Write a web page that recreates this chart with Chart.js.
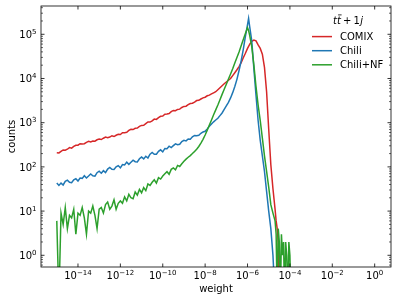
<!DOCTYPE html>
<html>
<head>
<meta charset="utf-8">
<title>tt+1j weight distribution</title>
<script src="https://cdn.jsdelivr.net/npm/chart.js@4"></script>
<style>
  html, body { margin: 0; padding: 0; background: #fff; }
  canvas { display: block; }
</style>
</head>
<body>
<canvas id="weightChart" width="398" height="302"></canvas>
<script>
// bin positions, log10(weight)
const binExp = [
  -15.0, -14.9, -14.8, -14.7, -14.6, -14.5, -14.4, -14.3, -14.2, -14.1,
  -14.0, -13.9, -13.8, -13.7, -13.6, -13.5, -13.4, -13.3, -13.2, -13.1,
  -13.0, -12.9, -12.8, -12.7, -12.6, -12.5, -12.4, -12.3, -12.2, -12.1,
  -12.0, -11.9, -11.8, -11.7, -11.6, -11.5, -11.4, -11.3, -11.2, -11.1,
  -11.0, -10.9, -10.8, -10.7, -10.6, -10.5, -10.4, -10.3, -10.2, -10.1,
  -10.0, -9.9, -9.8, -9.7, -9.6, -9.5, -9.4, -9.3, -9.2, -9.1,
  -9.0, -8.9, -8.8, -8.7, -8.6, -8.5, -8.4, -8.3, -8.2, -8.1,
  -8.0, -7.9, -7.8, -7.7, -7.6, -7.5, -7.4, -7.3, -7.2, -7.1,
  -7.0, -6.9, -6.8, -6.7, -6.6, -6.5, -6.4, -6.3, -6.2, -6.1,
  -6.0, -5.95,
  -5.9, -5.8, -5.7, -5.6, -5.5, -5.4, -5.3, -5.2, -5.1, -5.0, -4.9, -4.8, -4.7,
  -4.65, -4.6, -4.55, -4.5, -4.45, -4.4, -4.35, -4.3, -4.25, -4.2, -4.15, -4.1, -4.05, -4.0, -3.95
];

const comixCounts = [
  208, 207, 225, 242, 238, 251, 273, 266, 290, 309,
  310, 335, 331, 334, 360, 378, 366, 384, 382, 410,
  425, 416, 445, 471, 457, 474, 507, 486, 520, 546,
  539, 591, 594, 608, 668, 711, 700, 746, 757, 823,
  868, 870, 955, 1038, 1031, 1098, 1204, 1184, 1300, 1398,
  1416, 1559, 1569, 1610, 1773, 1893, 1867, 1995, 2026, 2210,
  2337, 2362, 2560, 2720, 2749, 2921, 3167, 3201, 3436, 3650,
  3764, 4058, 4204, 4487, 4742, 5012, 5559, 6166, 6839, 7586,
  8318, 9120, 10000, 11640, 13520, 15740, 18620, 22900, 29500, 37150,
  47860, 53500,
  58900, 69180, 74130, 70800, 57540, 47860, 35480, 17780, 5012, 708, 112, 32, 11,
  6, 4, 2, 0, null, null, null, null, null, null, null, null, null, null, null
];

const chiliCounts = [
  43, 38, 43, 39, 47, 50, 45, 44, 51, 54,
  48, 56, 55, 63, 56, 62, 69, 63, 62, 74,
  80, 72, 82, 74, 89, 97, 88, 87, 100, 107,
  95, 113, 111, 128, 114, 127, 142, 131, 129, 153,
  167, 152, 174, 159, 194, 212, 193, 194, 224, 243,
  218, 261, 258, 294, 274, 302, 332, 318, 326, 374,
  399, 388, 429, 421, 480, 515, 505, 520, 576, 618,
  640, 724, 832, 933, 1047, 1148, 1259, 1445, 1660, 1995,
  2399, 2884, 3631, 4786, 6607, 9550, 15140, 25120, 45710, 89130,
  166000, 229000,
  151000, 70800, 16600, 4169, 1122, 398, 178, 79, 28, 10, 4, 1, 0,
  null, null, null, null, null, null, null, null, null, null, null, null, null, null, null
];

const chiliNfCounts = [
  6, 0, 9, 5, 12, 4, 8, 7, 11, 3,
  9, 8, 12, 7, 3, 10, 9, 13, 8, 4,
  11, 12, 9, 14, 16, 11, 13, 18, 11, 15,
  17, 15, 21, 17, 24, 20, 19, 27, 23, 31,
  26, 34, 29, 41, 38, 45, 51, 43, 57, 53,
  62, 70, 78, 68, 88, 95, 86, 108, 102, 118,
  134, 150, 165, 180, 200, 224, 252, 290, 345, 420,
  525, 680, 890, 1150, 1510, 1950, 2510, 3300, 4370, 5700,
  7410, 9700, 12600, 16600, 22400, 30000, 39800, 55000, 75900, 104700,
  141000, 122000,
  95500, 52500, 20000, 6600, 2510, 1120, 447, 178, 79, 35, 14, 9, 6,
  3, 0, 4, 2, 0, 3, 1, 2, 0, 2, 1, 0, 2, 1, 0
];

const seriesLabels = ["COMIX", "Chili", "Chili+NF"];
const seriesColors = ["#d62728", "#1f77b4", "#2ca02c"];

const xTickExps = [-14, -12, -10, -8, -6, -4, -2, 0];
const yTickExps = [0, 1, 2, 3, 4, 5];
const xLimits = [-15.745, 0.77];   // log10 of axis ends
const yLimits = [-0.265, 5.64];

const FONT = '"DejaVu Sans", sans-serif';

function toPoints(counts){
  return binExp.map((e, i) => {
    const c = counts[i];
    if(c === null) return { x: Math.pow(10, e), y: null };
    // empty bins fall below the axis
    return { x: Math.pow(10, e), y: c > 0 ? c : 0.1 };
  });
}

function drawPower(ctx, exp, x, y, align){
  const sup = exp < 0 ? "\u2212" + Math.abs(exp) : String(exp);
  ctx.font = "10px " + FONT;
  const wb = ctx.measureText("10").width;
  ctx.font = "7px " + FONT;
  const ws = ctx.measureText(sup).width;
  const total = wb + ws;
  const x0 = align === "center" ? x - total / 2 : x - total;
  ctx.textAlign = "left";
  ctx.textBaseline = "alphabetic";
  ctx.font = "10px " + FONT;
  ctx.fillText("10", x0, y);
  ctx.font = "7px " + FONT;
  ctx.fillText(sup, x0 + wb, y - 4);
}

function drawLegendTitle(ctx, cx, y){
  const it = "italic 10px " + FONT;
  const rm = "10px " + FONT;
  const parts = [
    { t: "t", f: it, pad: 0 },
    { t: "t", f: it, pad: 0, bar: true },
    { t: "+", f: rm, pad: 2.2 },
    { t: "1", f: rm, pad: 2.2 },
    { t: "j", f: it, pad: 0.3 }
  ];
  let total = 0;
  for(const p of parts){
    ctx.font = p.f;
    p.w = ctx.measureText(p.t).width;
    total += p.pad + p.w;
  }
  let x = cx - total / 2;
  ctx.textAlign = "left";
  ctx.textBaseline = "alphabetic";
  for(const p of parts){
    x += p.pad;
    ctx.font = p.f;
    ctx.fillText(p.t, x, y);
    if(p.bar){
      ctx.beginPath();
      ctx.lineWidth = 0.8;
      ctx.moveTo(x + 1.2, y - 8.6);
      ctx.lineTo(x + p.w + 0.8, y - 8.6);
      ctx.stroke();
    }
    x += p.w;
  }
}

const axesPlugin = {
  id: "mplAxes",
  afterDraw(chart){
    const ctx = chart.ctx;
    const area = chart.chartArea;
    const xs = chart.scales.x;
    const ys = chart.scales.y;
    ctx.save();
    ctx.strokeStyle = "#000";
    ctx.fillStyle = "#000";

    // frame
    ctx.lineWidth = 0.8;
    ctx.strokeRect(area.left, area.top, area.right - area.left, area.bottom - area.top);

    // x ticks (inward, bottom and top)
    ctx.beginPath();
    for(const e of xTickExps){
      const px = xs.getPixelForValue(Math.pow(10, e));
      ctx.moveTo(px, area.bottom); ctx.lineTo(px, area.bottom - 3.5);
      ctx.moveTo(px, area.top); ctx.lineTo(px, area.top + 3.5);
    }
    // y major ticks
    for(const e of yTickExps){
      const py = ys.getPixelForValue(Math.pow(10, e));
      ctx.moveTo(area.left, py); ctx.lineTo(area.left + 3.5, py);
      ctx.moveTo(area.right, py); ctx.lineTo(area.right - 3.5, py);
    }
    ctx.stroke();

    // y minor ticks
    ctx.beginPath();
    ctx.lineWidth = 0.6;
    for(let d = Math.floor(yLimits[0]); d <= Math.ceil(yLimits[1]); d++){
      for(let m = 2; m <= 9; m++){
        const lv = d + Math.log10(m);
        if(lv < yLimits[0] || lv > yLimits[1]) continue;
        const py = ys.getPixelForValue(m * Math.pow(10, d));
        ctx.moveTo(area.left, py); ctx.lineTo(area.left + 2, py);
        ctx.moveTo(area.right, py); ctx.lineTo(area.right - 2, py);
      }
    }
    ctx.stroke();

    // tick labels
    for(const e of xTickExps){
      const px = xs.getPixelForValue(Math.pow(10, e));
      drawPower(ctx, e, px, area.bottom + 11.5, "center");
    }
    for(const e of yTickExps){
      const py = ys.getPixelForValue(Math.pow(10, e));
      drawPower(ctx, e, area.left - 4.5, py + 3.7, "right");
    }

    // axis titles
    ctx.font = "10px " + FONT;
    ctx.textAlign = "center";
    ctx.textBaseline = "alphabetic";
    ctx.fillText("weight", (area.left + area.right) / 2, 292);
    ctx.save();
    ctx.translate(15, (area.top + area.bottom) / 2);
    ctx.rotate(-Math.PI / 2);
    ctx.fillText("counts", 0, 0);
    ctx.restore();

    // legend
    drawLegendTitle(ctx, 348, 23.5);
    seriesLabels.forEach((label, i) => {
      const y = 36.6 + i * 14.1;
      ctx.beginPath();
      ctx.strokeStyle = seriesColors[i];
      ctx.lineWidth = 1.5;
      ctx.moveTo(312, y);
      ctx.lineTo(332, y);
      ctx.stroke();
      ctx.fillStyle = "#000";
      ctx.font = "10px " + FONT;
      ctx.textAlign = "left";
      ctx.textBaseline = "alphabetic";
      ctx.fillText(label, 340, y + 3.6);
    });

    ctx.restore();
  }
};

const datasets = [comixCounts, chiliCounts, chiliNfCounts].map((counts, i) => ({
  label: seriesLabels[i],
  data: toPoints(counts),
  borderColor: seriesColors[i],
  backgroundColor: seriesColors[i],
  borderWidth: 1.5,
  pointRadius: 0,
  tension: 0,
  fill: false,
  order: 3 - i
}));

new Chart(document.getElementById("weightChart"), {
  type: "line",
  data: { datasets },
  options: {
    responsive: false,
    animation: false,
    devicePixelRatio: 1,
    layout: { padding: { left: 41, top: 6, right: 7, bottom: 35 } },
    scales: {
      x: { type: "logarithmic", min: Math.pow(10, xLimits[0]), max: Math.pow(10, xLimits[1]), display: false },
      y: { type: "logarithmic", min: Math.pow(10, yLimits[0]), max: Math.pow(10, yLimits[1]), display: false }
    },
    plugins: {
      legend: { display: false },
      tooltip: { enabled: false }
    }
  },
  plugins: [axesPlugin]
});
</script>
</body>
</html>
